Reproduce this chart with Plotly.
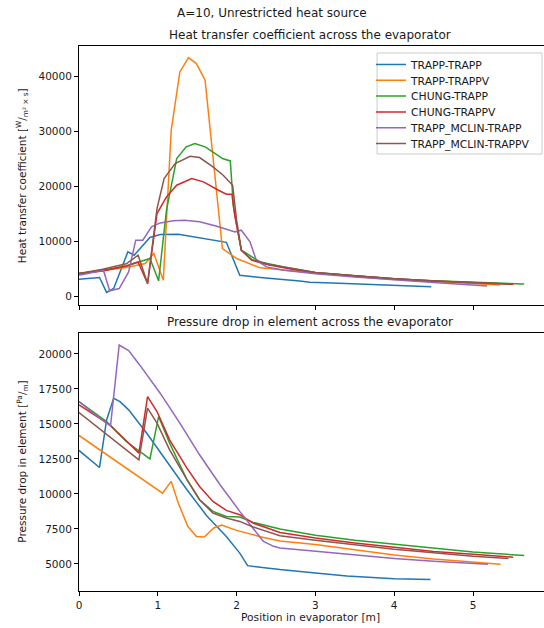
import plotly.graph_objects as go

# Series names and colours
names = ["TRAPP-TRAPP", "TRAPP-TRAPPV", "CHUNG-TRAPP", "CHUNG-TRAPPV",
         "TRAPP_MCLIN-TRAPP", "TRAPP_MCLIN-TRAPPV"]
colors = ["#1f77b4", "#ff7f0e", "#2ca02c", "#d62728", "#9467bd", "#8c564b"]

# ---- Heat transfer coefficient [W/(m^2 s)] vs position [m] ----
htc_x_tt = [0.0, 0.26, 0.35, 0.44, 0.62, 0.70, 0.90, 1.03, 1.26, 1.45, 1.68, 1.87, 2.04, 2.30, 2.80, 2.93, 3.30, 3.65, 4.00, 4.47]
htc_tt = [3090, 3400, 700, 1400, 8060, 7450, 10670, 11200, 11270, 10800, 10180, 9800, 3820, 3400, 2750, 2550, 2350, 2150, 1950, 1700]

htc_x_ttv = [0.0, 0.3, 0.6, 0.84, 0.95, 1.07, 1.17, 1.28, 1.39, 1.49, 1.60, 1.82, 2.00, 2.30, 2.60, 3.00, 3.50, 4.00, 4.50, 5.00, 5.34]
htc_ttv = [4120, 4600, 5200, 5940, 7760, 2900, 30180, 40790, 43400, 42300, 39270, 8670, 6850, 5150, 4700, 4200, 3600, 3050, 2650, 2300, 2050]

htc_x_ct = [0.0, 0.3, 0.6, 0.90, 1.01, 1.11, 1.24, 1.36, 1.47, 1.60, 1.73, 1.82, 1.92, 1.96, 2.06, 2.30, 2.60, 3.00, 3.50, 4.00, 4.50, 5.00, 5.65]
htc_ct = [4120, 4700, 5500, 6850, 2790, 15640, 25030, 27150, 27760, 27150, 25940, 25030, 24600, 16240, 8360, 6240, 5300, 4300, 3700, 3150, 2800, 2500, 2200]

htc_x_ctv = [0.0, 0.3, 0.6, 0.75, 0.87, 0.99, 1.11, 1.24, 1.43, 1.58, 1.77, 1.87, 1.94, 1.98, 2.06, 2.19, 2.40, 2.70, 3.00, 3.50, 4.00, 4.50, 5.00, 5.51]
htc_ctv = [4120, 4600, 5500, 6240, 2300, 15030, 18060, 20180, 21390, 20790, 19270, 18550, 18550, 14420, 8360, 6550, 5700, 4900, 4250, 3700, 3150, 2750, 2450, 2150]

htc_x_mt = [0.0, 0.31, 0.39, 0.51, 0.63, 0.72, 0.81, 0.92, 1.03, 1.20, 1.34, 1.53, 1.75, 1.98, 2.06, 2.17, 2.25, 2.38, 2.60, 3.00, 3.50, 4.00, 4.50, 5.18]
htc_mt = [3820, 4730, 970, 1390, 4420, 10180, 10180, 12600, 13330, 13700, 13820, 13520, 12730, 11700, 12000, 9880, 6550, 5330, 4700, 4100, 3500, 2950, 2500, 1850]

htc_x_mtv = [0.0, 0.3, 0.6, 0.75, 0.87, 0.99, 1.08, 1.22, 1.41, 1.53, 1.70, 1.83, 1.95, 2.00, 2.06, 2.19, 2.40, 2.70, 3.00, 3.50, 4.00, 4.50, 5.00, 5.49]
htc_mtv = [4120, 4900, 5900, 7450, 2300, 15940, 21390, 24120, 25450, 25210, 23520, 22000, 20180, 13820, 8360, 6700, 5800, 5000, 4300, 3700, 3150, 2750, 2450, 2200]

# ---- Pressure drop in element [Pa/m] vs position [m] ----
dp_x_tt = [0.0, 0.26, 0.35, 0.44, 0.52, 0.63, 0.86, 1.11, 1.37, 1.62, 1.87, 2.04, 2.14, 2.38, 2.55, 3.00, 3.40, 4.00, 4.46]
dp_tt = [13110, 11890, 15290, 16840, 16600, 16010, 14340, 12320, 10300, 8450, 6970, 5780, 4880, 4720, 4600, 4350, 4150, 3950, 3900]

dp_x_ttv = [0.0, 1.06, 1.17, 1.26, 1.38, 1.49, 1.59, 1.71, 1.81, 2.00, 2.30, 2.55, 3.00, 3.50, 4.00, 4.50, 5.00, 5.35]
dp_ttv = [14180, 10060, 10900, 9350, 7690, 6970, 6930, 7570, 7780, 7400, 6950, 6650, 6400, 6000, 5650, 5350, 5120, 4980]

dp_x_ct = [0.0, 0.35, 0.60, 0.90, 1.01, 1.15, 1.37, 1.53, 1.70, 1.87, 2.04, 2.21, 2.55, 3.00, 3.50, 4.00, 4.50, 5.00, 5.65]
dp_ct = [16600, 15170, 13750, 12510, 15530, 13630, 11020, 9590, 8760, 8400, 8350, 7970, 7500, 7050, 6700, 6400, 6100, 5850, 5600]

dp_x_ctv = [0.0, 0.39, 0.76, 0.87, 0.99, 1.15, 1.37, 1.53, 1.70, 1.87, 2.04, 2.21, 2.55, 3.00, 3.50, 4.00, 4.50, 5.00, 5.51]
dp_ctv = [16360, 14940, 12920, 16960, 15890, 13870, 11850, 10540, 9470, 8830, 8520, 7920, 7250, 6850, 6500, 6200, 5900, 5700, 5480]

dp_x_mt = [0.0, 0.18, 0.40, 0.51, 0.63, 0.77, 1.03, 1.28, 1.53, 1.79, 2.04, 2.21, 2.34, 2.47, 2.55, 2.97, 3.50, 4.00, 4.50, 5.19]
dp_mt = [16600, 15770, 14870, 20640, 20240, 19220, 17200, 15060, 12800, 10660, 8760, 7570, 6620, 6260, 6140, 5930, 5650, 5400, 5200, 4980]

dp_x_mtv = [0.0, 0.76, 0.87, 0.99, 1.15, 1.37, 1.53, 1.70, 1.87, 2.04, 2.21, 2.55, 3.00, 3.50, 4.00, 4.50, 5.00, 5.45]
dp_mtv = [15820, 12440, 16130, 15060, 13150, 11020, 9590, 8640, 8280, 8040, 7640, 7020, 6700, 6350, 6050, 5800, 5550, 5400]

htc_series = [(htc_x_tt, htc_tt), (htc_x_ttv, htc_ttv), (htc_x_ct, htc_ct),
              (htc_x_ctv, htc_ctv), (htc_x_mt, htc_mt), (htc_x_mtv, htc_mtv)]
dp_series = [(dp_x_tt, dp_tt), (dp_x_ttv, dp_ttv), (dp_x_ct, dp_ct),
             (dp_x_ctv, dp_ctv), (dp_x_mt, dp_mt), (dp_x_mtv, dp_mtv)]

htc_ticks = [0, 10000, 20000, 30000, 40000]
dp_ticks = [5000, 7500, 10000, 12500, 15000, 17500, 20000]
x_ticks = [0, 1, 2, 3, 4, 5]

FONT = "DejaVu Sans"
TXT = "#1a1a1a"

# Legend rows: one single-entry legend per series so the rows sit close together
legend_ids = ["legend", "legend2", "legend3", "legend4", "legend5", "legend6"]
row_top, row_step = 0.9927, 0.0290

fig = go.Figure()
for name, col, lid, (xs, ys) in zip(names, colors, legend_ids, htc_series):
    fig.add_trace(go.Scatter(x=xs, y=ys, mode="lines", name=name,
                             line=dict(color=col, width=1.5),
                             xaxis="x", yaxis="y", legend=lid))
for name, col, (xs, ys) in zip(names, colors, dp_series):
    fig.add_trace(go.Scatter(x=xs, y=ys, mode="lines", name=name,
                             line=dict(color=col, width=1.5),
                             xaxis="x2", yaxis="y2", showlegend=False))

tick_style = dict(ticks="outside", ticklen=4, tickwidth=1, tickcolor="black",
                  showgrid=False, zeroline=False, linecolor="black", linewidth=1,
                  showline=True,
                  tickfont=dict(family=FONT, size=10.5, color=TXT))

fig.update_layout(
    width=544, height=628,
    margin=dict(l=79, r=0, t=46, b=37),
    paper_bgcolor="white", plot_bgcolor="white",
    font=dict(family=FONT, color=TXT),
    xaxis=dict(domain=[0, 1], anchor="y", range=[0, 5.901], tickvals=x_ticks,
               showticklabels=False, mirror=True, **tick_style),
    yaxis=dict(domain=[0.5248, 1], anchor="x", range=[-1600, 45500],
               tickvals=htc_ticks, tickformat="d", mirror=False, **tick_style),
    xaxis2=dict(domain=[0, 1], anchor="y2", range=[0, 5.901], tickvals=x_ticks,
                mirror=True, **tick_style),
    yaxis2=dict(domain=[0, 0.4734], anchor="x2", range=[3070, 21500],
                tickvals=dp_ticks, tickformat="d", mirror=False, **tick_style),
    showlegend=True,
)

for i, lid in enumerate(legend_ids):
    fig.update_layout({lid: dict(x=0.628, y=row_top - i * row_step,
                                 xanchor="left", yanchor="top",
                                 bgcolor="rgba(0,0,0,0)", borderwidth=0,
                                 font=dict(family=FONT, size=10.8, color=TXT),
                                 itemwidth=30)})

# Legend frame
fig.add_shape(type="rect", xref="paper", yref="paper",
              x0=0.641, x1=0.9957, y0=0.8018, y1=0.9872,
              line=dict(color="#cccccc", width=1), fillcolor="white",
              layer="above")

ann = [
    dict(text="A=10, Unrestricted heat source", x=0.415, y=1.0606,
         font=dict(size=12)),
    dict(text="Heat transfer coefficient across the evaporator", x=0.497, y=1.0202,
         font=dict(size=12)),
    dict(text="Pressure drop in element across the evaporator", x=0.497, y=0.4936,
         font=dict(size=12)),
    dict(text="Position in evaporator [m]", x=0.497, y=-0.0495,
         font=dict(size=10.7)),
    dict(text="Heat transfer coefficient [<sup>W</sup>/<sub>m² × s</sub>]",
         x=-0.121, y=0.7624, textangle=-90, font=dict(size=10.5)),
    dict(text="Pressure drop in element [<sup>Pa</sup>/<sub>m</sub>]",
         x=-0.121, y=0.2367, textangle=-90, font=dict(size=10.5)),
]
for a in ann:
    fig.add_annotation(xref="paper", yref="paper", showarrow=False,
                       xanchor="center", yanchor="middle",
                       font_family=FONT, font_color=TXT, **a)

fig.write_html("out.html")
